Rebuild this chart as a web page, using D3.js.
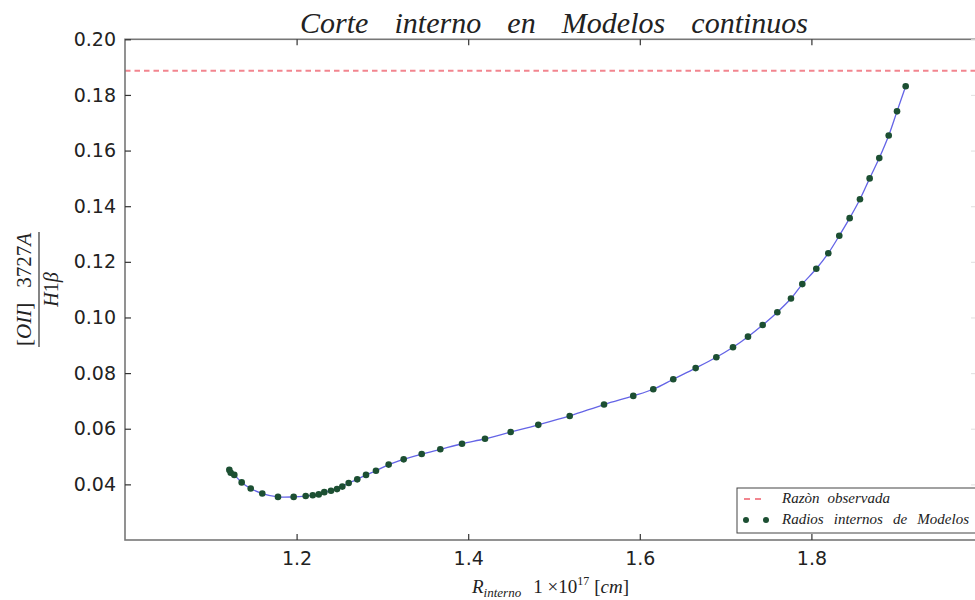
<!DOCTYPE html>
<html>
<head>
<meta charset="utf-8">
<script src="https://cdn.jsdelivr.net/npm/d3@7"></script>
<style>
  html, body { margin: 0; padding: 0; background: #fff; }
  svg { display: block; }
  .tick text { font-family: "DejaVu Sans", sans-serif; fill: #222; }
  .serif { font-family: "Liberation Serif", "DejaVu Serif", serif; font-style: italic; fill: #222; }
</style>
</head>
<body>
<svg id="chart" width="975" height="600"></svg>
<script>
// Inner radius of the models (units of 1e17 cm)
const radius = [
  1.1216, 1.1232, 1.1274, 1.1360, 1.1465, 1.1600, 1.1783, 1.1966, 1.2106, 1.2188,
  1.2258, 1.2323, 1.2401, 1.2471, 1.2533, 1.2607, 1.2707, 1.2809, 1.2925, 1.3073,
  1.3248, 1.3458, 1.3675, 1.3928, 1.4196, 1.4495, 1.4817, 1.5183, 1.5583, 1.5924,
  1.6157, 1.6390, 1.6651, 1.6892, 1.7086, 1.7261, 1.7432, 1.7603, 1.7762, 1.7894,
  1.8057, 1.8197, 1.8325, 1.8446, 1.8566, 1.8679, 1.8791, 1.8901, 1.8998, 1.9099
];
// [OII] 3727A / H-beta line ratio for each model
const ratio = [
  0.0452, 0.0442, 0.0434, 0.0407, 0.0385, 0.0367, 0.0355, 0.0355, 0.0358, 0.0361,
  0.0364, 0.0372, 0.0377, 0.0383, 0.0392, 0.0405, 0.0418, 0.0434, 0.0449, 0.0471,
  0.0490, 0.0509, 0.0526, 0.0546, 0.0564, 0.0588, 0.0614, 0.0646, 0.0687, 0.0718,
  0.0742, 0.0778, 0.0818, 0.0857, 0.0893, 0.0931, 0.0973, 0.1019, 0.1068, 0.1120,
  0.1175, 0.1231, 0.1294, 0.1357, 0.1425, 0.1500, 0.1573, 0.1654, 0.1741, 0.1831
];
// Observed ratio
const observedRatio = 0.1887;

const xDomain = [1.0, 2.0];
const yDomain = [0.02, 0.20];
const xTicks = [1.2, 1.4, 1.6, 1.8];
const yTicks = [0.04, 0.06, 0.08, 0.10, 0.12, 0.14, 0.16, 0.18, 0.20];

const titleWords = ["Corte", "interno", "en", "Modelos", "continuos"];
const legendObserved = ["Razòn", "observada"];
const legendModels = ["Radios", "internos", "de", "Modelos"];

const svg = d3.select("#chart");

const x = d3.scaleLinear().domain(xDomain).range([125, 983]);
const y = d3.scaleLinear().domain(yDomain).range([540, 39.3]);

const points = radius.map((r, i) => ({ r, v: ratio[i] }));

// Text whose words are spread apart (math-mode spacing); each word may be
// a plain string or a list of [string, italic?] pieces.
function spacedText(parent, words, opts) {
  const t = parent.append("text").attr("class", "serif")
    .attr("x", opts.x).attr("y", opts.y)
    .attr("text-anchor", opts.anchor || "start")
    .attr("font-size", opts.size);
  const firsts = [];
  words.forEach(w => {
    const pieces = typeof w === "string" ? [[w, true]] : w;
    pieces.forEach((p, j) => {
      const ts = t.append("tspan").attr("font-style", p[1] ? "italic" : "normal").text(p[0]);
      if (j === 0) firsts.push(ts);
    });
  });
  const len = t.node().getComputedTextLength();
  const gap = (opts.width - len) / Math.max(1, words.length - 1);
  firsts.slice(1).forEach(ts => ts.attr("dx", gap));
  return t;
}

// Observed ratio (dashed)
svg.append("line")
  .attr("x1", x(xDomain[0])).attr("x2", x(xDomain[1]))
  .attr("y1", y(observedRatio)).attr("y2", y(observedRatio))
  .attr("stroke", "#f2858f").attr("stroke-width", 1.8)
  .attr("stroke-dasharray", "5.5,4");

// Model curve
const line = d3.line().x(d => x(d.r)).y(d => y(d.v)).curve(d3.curveCatmullRom.alpha(0.5));
svg.append("path").datum(points)
  .attr("d", line)
  .attr("fill", "none")
  .attr("stroke", "#6464e6")
  .attr("stroke-width", 1.3);

// Model points
svg.append("g").selectAll("circle").data(points).join("circle")
  .attr("cx", d => x(d.r)).attr("cy", d => y(d.v))
  .attr("r", 3.3)
  .attr("fill", "#1c4f32");

// Axes frame
svg.append("rect")
  .attr("x", x(xDomain[0])).attr("y", y(yDomain[1]))
  .attr("width", x(xDomain[1]) - x(xDomain[0]))
  .attr("height", y(yDomain[0]) - y(yDomain[1]))
  .attr("fill", "none").attr("stroke", "#777").attr("stroke-width", 1.6);

function styleAxis(g) {
  g.select(".domain").remove();
  g.selectAll(".tick line").attr("stroke", "#333").attr("stroke-width", 1.2);
}

svg.append("g").attr("transform", `translate(0,${y(yDomain[0])})`)
  .call(d3.axisBottom(x).tickValues(xTicks).tickSize(-6).tickPadding(12).tickFormat(d3.format(".1f")))
  .call(styleAxis)
  .selectAll("text").attr("font-size", 19);

svg.append("g").attr("transform", `translate(0,${y(yDomain[1])})`)
  .call(d3.axisTop(x).tickValues(xTicks).tickSize(-6).tickFormat(""))
  .call(styleAxis);

svg.append("g").attr("transform", `translate(${x(xDomain[0])},0)`)
  .call(d3.axisLeft(y).tickValues(yTicks).tickSize(-6).tickPadding(9).tickFormat(d3.format(".2f")))
  .call(styleAxis)
  .selectAll("text").attr("font-size", 19);

svg.append("g").attr("transform", `translate(${x(xDomain[1])},0)`)
  .call(d3.axisRight(y).tickValues(yTicks).tickSize(-12).tickFormat(""))
  .call(g => g.select(".domain").remove())
  .call(g => g.selectAll(".tick line").attr("stroke", "#e4e4e4").attr("stroke-width", 1.2));

// Title
spacedText(svg, titleWords, { x: 554, y: 33, anchor: "middle", size: 30, width: 508 });

// X label: R_interno  1 x10^17 [cm]
const xl = svg.append("text").attr("class", "serif").attr("x", 472).attr("y", 593).attr("font-size", 19);
xl.append("tspan").text("R");
xl.append("tspan").attr("font-size", 13).attr("dy", 4).text("interno");
xl.append("tspan").attr("dy", -4).attr("dx", 12).attr("font-style", "normal").text("1 ×10");
xl.append("tspan").attr("font-size", 12).attr("dy", -8).attr("font-style", "normal").text("17");
xl.append("tspan").attr("dy", 8).attr("dx", 5).attr("font-style", "normal").text("[");
xl.append("tspan").text("cm");
xl.append("tspan").attr("font-style", "normal").text("]");

// Y label: fraction [OII] 3727A / H1β, rotated
const yl = svg.append("g").attr("transform", "translate(39,289.5) rotate(-90)");
spacedText(yl, [[["[", false], ["OII", true], ["]", false]], [["3727", false], ["A", true]]],
  { x: 0, y: -8, anchor: "middle", size: 21, width: 113 });
yl.append("line").attr("x1", -57.5).attr("x2", 57.5).attr("y1", 0).attr("y2", 0)
  .attr("stroke", "#333").attr("stroke-width", 1.2);
const den = yl.append("text").attr("class", "serif").attr("x", 0).attr("y", 19)
  .attr("text-anchor", "middle").attr("font-size", 20);
den.append("tspan").text("H");
den.append("tspan").attr("font-style", "normal").text("1");
den.append("tspan").text("β");

// Legend
const lg = svg.append("g");
lg.append("rect").attr("x", 737).attr("y", 488).attr("width", 250).attr("height", 45)
  .attr("fill", "#fff").attr("stroke", "#444").attr("stroke-width", 1);
lg.append("line").attr("x1", 744).attr("x2", 766).attr("y1", 499).attr("y2", 499)
  .attr("stroke", "#f2858f").attr("stroke-width", 1.8).attr("stroke-dasharray", "6,5");
spacedText(lg, legendObserved, { x: 782, y: 503, size: 15, width: 108 });
lg.selectAll("circle.lg").data([746, 766]).join("circle")
  .attr("cx", d => d).attr("cy", 520).attr("r", 3).attr("fill", "#1c4f32");
spacedText(lg, legendModels, { x: 782, y: 524, size: 15, width: 187 });
</script>
</body>
</html>
